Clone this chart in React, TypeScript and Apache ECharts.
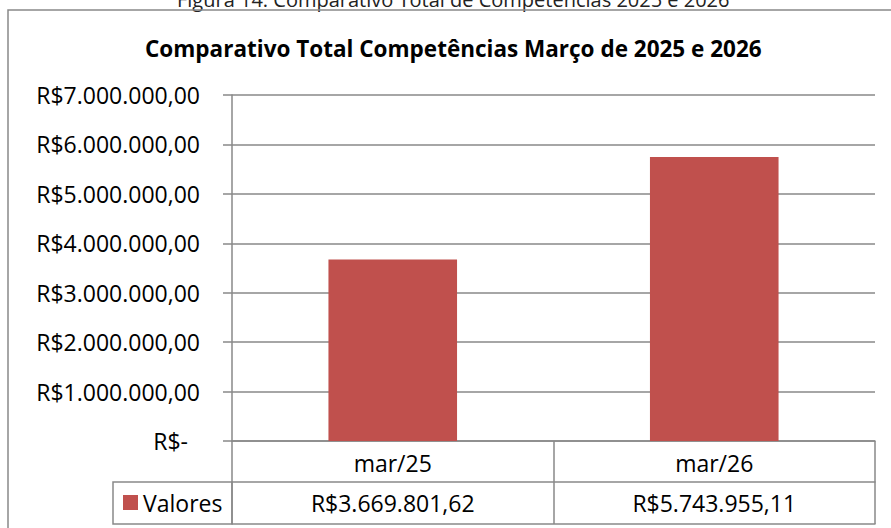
import React, { useEffect, useRef } from "react";
import * as echarts from "echarts";

const caption = "Figura 14: Comparativo Total de Competências 2025 e 2026";
const chartTitle = "Comparativo Total Competências Março de 2025 e 2026";
const categories = ["mar/25", "mar/26"];
const seriesName = "Valores";
const values = [3669801.62, 5743955.11];
const yMax = 7000000;
const yInterval = 1000000;

const FONT = "'Open Sans', 'Noto Sans', sans-serif";
const GRAY = "#898989";
const RED = "#C0504D";
const FS = 23;

function brl(v: number): string {
  const fixed = v.toFixed(2);
  const [intPart, dec] = fixed.split(".");
  const withDots = intPart.replace(/\B(?=(\d{3})+(?!\d))/g, ".");
  return "R$" + withDots + "," + dec;
}

export default function App() {
  const ref = useRef<HTMLDivElement>(null);
  useEffect(() => {
    if (!ref.current) return;
    const chart = echarts.init(ref.current, undefined, { renderer: "svg" });
    chart.setOption({
      animation: false,
      backgroundColor: "#ffffff",
      textStyle: { fontFamily: FONT },
      title: {
        text: chartTitle,
        left: 145,
        top: 37,
        padding: 0,
        textStyle: { fontFamily: FONT, fontSize: 22.5, fontWeight: "bold", color: "#000" },
      },
      legend: {
        data: [{ name: seriesName, icon: "rect" }],
        left: 123,
        top: 491,
        padding: 0,
        itemWidth: 15,
        itemHeight: 15,
        textStyle: { fontFamily: FONT, fontSize: FS, color: "#000" },
        selectedMode: false,
      },
      grid: { left: 232, right: 16, top: 95, bottom: 87, containLabel: false },
      xAxis: [
        {
          type: "category",
          data: categories,
          position: "bottom",
          axisLine: { show: true, lineStyle: { color: GRAY, width: 1.5 } },
          axisTick: { show: true, length: 83, alignWithLabel: false, lineStyle: { color: GRAY, width: 1.5 } },
          axisLabel: { fontFamily: FONT, fontSize: FS, color: "#000", margin: 10 },
          splitLine: { show: false },
        },
        {
          type: "category",
          data: values.map(brl),
          position: "bottom",
          offset: 41,
          axisLine: { show: true, lineStyle: { color: GRAY, width: 1.5 } },
          axisTick: { show: false },
          axisLabel: { fontFamily: FONT, fontSize: FS, color: "#000", margin: 9 },
          splitLine: { show: false },
        },
        {
          type: "category",
          data: categories,
          position: "bottom",
          offset: 83,
          axisLine: { show: true, lineStyle: { color: GRAY, width: 1.5 } },
          axisTick: { show: false },
          axisLabel: { show: false },
          splitLine: { show: false },
        },
      ],
      yAxis: {
        type: "value",
        min: 0,
        max: yMax,
        interval: yInterval,
        axisLine: { show: true, lineStyle: { color: GRAY, width: 1.5 } },
        axisTick: { show: true, length: 9, inside: false, lineStyle: { color: GRAY, width: 1.5 } },
        splitLine: { show: true, lineStyle: { color: GRAY, width: 1.5 } },
        axisLabel: {
          fontFamily: FONT,
          fontSize: FS,
          color: "#000",
          margin: 32,
          formatter: (v: number) => (v === 0 ? "{z|R$-}" : brl(v)),
          rich: { z: { fontFamily: FONT, fontSize: FS, color: "#000", padding: [0, 12, 0, 0] } },
        },
      },
      series: [
        {
          name: seriesName,
          type: "bar",
          xAxisIndex: 0,
          data: values,
          barWidth: "40%",
          itemStyle: { color: RED },
        },
      ],
      graphic: [
        {
          type: "text",
          left: 177,
          top: -11,
          style: { text: caption, fontFamily: FONT, fontSize: 20, fill: "#222" },
          silent: true,
        },
        {
          type: "rect",
          shape: { x: 8, y: 10, width: 900, height: 540 },
          style: { fill: "none", stroke: GRAY, lineWidth: 1.5 },
          silent: true,
        },
        {
          type: "rect",
          shape: { x: 113, y: 482, width: 119, height: 42 },
          style: { fill: "none", stroke: GRAY, lineWidth: 1.5 },
          silent: true,
        },
      ],
    });
    return () => chart.dispose();
  }, []);
  return (
    <div
      ref={ref}
      style={{ position: "absolute", left: 0, top: 0, width: 891, height: 528, background: "#fff" }}
    />
  );
}
